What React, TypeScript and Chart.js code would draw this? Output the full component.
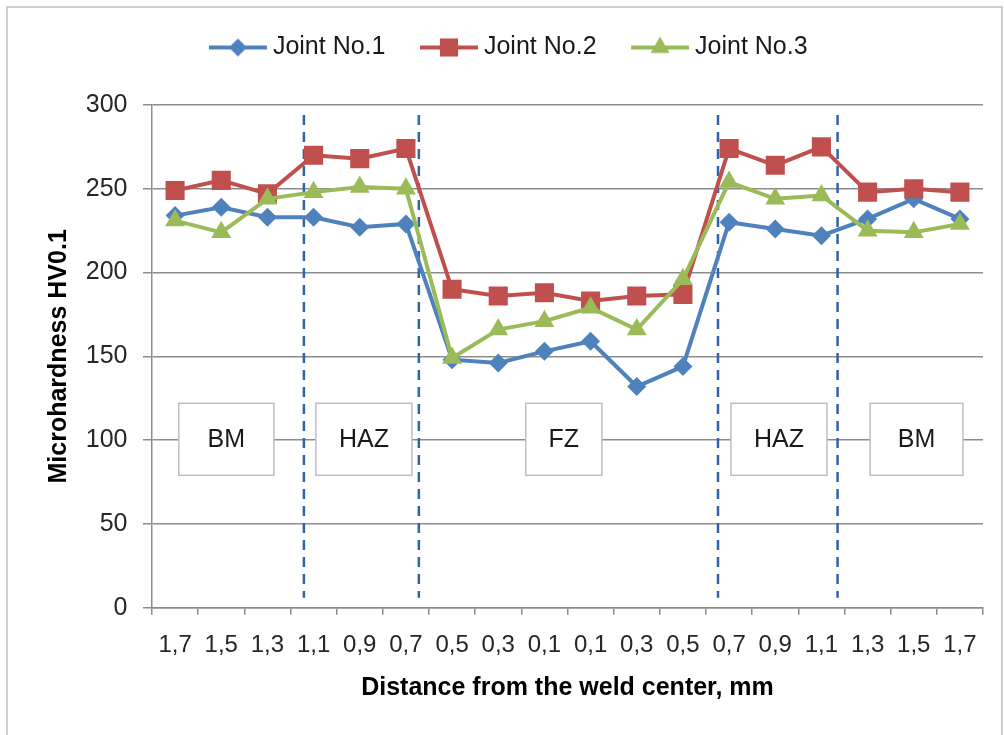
import React, { useEffect, useRef } from 'react';
import { Chart, registerables } from 'chart.js';

Chart.register(...registerables);

// ---- data ----
const categories = ['1,7', '1,5', '1,3', '1,1', '0,9', '0,7', '0,5', '0,3', '0,1', '0,1', '0,3', '0,5', '0,7', '0,9', '1,1', '1,3', '1,5', '1,7'];
const seriesNames = ['Joint No.1', 'Joint No.2', 'Joint No.3'];
const joint1 = [234, 239, 233, 233, 227, 229, 148, 146, 153, 159, 132, 144, 230, 226, 222, 232, 244, 232];
const joint2 = [249, 255, 247, 270, 268, 274, 190, 186, 188, 183, 186, 187, 274, 264, 275, 248, 250, 248];
const joint3 = [231, 224, 244, 248, 251, 250, 149, 166, 171, 179, 166, 196, 254, 244, 246, 225, 224, 229];
const yMin = 0;
const yMax = 300;
const yStep = 50;

// zone annotations (in category-index units)
const zoneLabels = ['BM', 'HAZ', 'FZ', 'HAZ', 'BM'];
const zoneCenters = [1.11, 4.09, 8.42, 13.08, 16.06];
const zoneWidths = [2.06, 2.08, 1.65, 2.08, 2.01];
const zoneBoundaries = [2.79, 5.28, 11.76, 14.35];

const COLORS = ['#4F81BD', '#C0504D', '#9BBB59'];
const STYLES = ['rectRot', 'rect', 'triangle'];
const RADII = [9.5, 13.5, 11.5];
const FONT = '"Liberation Sans", Arial, sans-serif';

function drawMarker(ctx: CanvasRenderingContext2D, style: string, x: number, y: number, r: number) {
  ctx.beginPath();
  if (style === 'rectRot') {
    ctx.moveTo(x - r, y);
    ctx.lineTo(x, y - r);
    ctx.lineTo(x + r, y);
    ctx.lineTo(x, y + r);
  } else if (style === 'rect') {
    const s = Math.SQRT1_2 * r;
    ctx.rect(x - s, y - s, 2 * s, 2 * s);
  } else {
    let a = 0;
    ctx.moveTo(x + Math.sin(a) * r, y - Math.cos(a) * r);
    a += (2 * Math.PI) / 3;
    ctx.lineTo(x + Math.sin(a) * r, y - Math.cos(a) * r);
    a += (2 * Math.PI) / 3;
    ctx.lineTo(x + Math.sin(a) * r, y - Math.cos(a) * r);
  }
  ctx.closePath();
  ctx.fill();
}

function legendImage(color: string, style: string, r: number) {
  const c = document.createElement('canvas');
  c.width = 60;
  c.height = 30;
  const ctx = c.getContext('2d')!;
  ctx.strokeStyle = color;
  ctx.lineWidth = 4;
  ctx.beginPath();
  ctx.moveTo(1, 15);
  ctx.lineTo(59, 15);
  ctx.stroke();
  ctx.fillStyle = color;
  drawMarker(ctx, style, 30, 15, r);
  return c;
}

const framePlugin = {
  id: 'frame',
  beforeDraw(chart: any) {
    const ctx = chart.ctx;
    ctx.save();
    ctx.fillStyle = '#ffffff';
    ctx.fillRect(0, 0, chart.width, chart.height);
    ctx.strokeStyle = '#BFBFBF';
    ctx.lineWidth = 1.5;
    ctx.strokeRect(7, 7, 995, 760);
    ctx.restore();
  },
};

const legendHeightPlugin = {
  id: 'legendHeight',
  afterInit(chart: any) {
    const legend = chart.legend;
    if (!legend) return;
    const fit = legend.fit;
    legend.fit = function () {
      fit.call(this);
      this.height = 111;
    };
  },
};

const zonesPlugin = {
  id: 'zones',
  beforeDatasetsDraw(chart: any) {
    const ctx = chart.ctx;
    const xs = chart.scales.x;
    const ys = chart.scales.y;
    ctx.save();
    // dashed boundaries
    ctx.strokeStyle = '#2E64A8';
    ctx.lineWidth = 2.5;
    ctx.setLineDash([10, 7]);
    zoneBoundaries.forEach((b) => {
      const x = xs.getPixelForValue(b);
      ctx.beginPath();
      ctx.moveTo(x, ys.getPixelForValue(294));
      ctx.lineTo(x, ys.getPixelForValue(6));
      ctx.stroke();
    });
    ctx.setLineDash([]);
    // labelled boxes
    zoneLabels.forEach((label, i) => {
      const x0 = xs.getPixelForValue(zoneCenters[i] - zoneWidths[i] / 2);
      const x1 = xs.getPixelForValue(zoneCenters[i] + zoneWidths[i] / 2);
      const y0 = ys.getPixelForValue(122);
      const y1 = ys.getPixelForValue(79);
      ctx.fillStyle = '#ffffff';
      ctx.fillRect(x0, y0, x1 - x0, y1 - y0);
      ctx.strokeStyle = '#BFBFBF';
      ctx.lineWidth = 1.5;
      ctx.strokeRect(x0, y0, x1 - x0, y1 - y0);
      ctx.fillStyle = '#1A1A1A';
      ctx.font = '25px ' + FONT;
      ctx.textAlign = 'center';
      ctx.textBaseline = 'middle';
      ctx.fillText(label, (x0 + x1) / 2, ys.getPixelForValue(100));
    });
    ctx.restore();
  },
};

export default function App() {
  const ref = useRef<HTMLCanvasElement | null>(null);

  useEffect(() => {
    if (!ref.current) return;
    const images = COLORS.map((c, i) => legendImage(c, STYLES[i], RADII[i] * 0.95));
    const values = [joint1, joint2, joint3];
    const chart = new Chart(ref.current, {
      type: 'line',
      data: {
        labels: categories,
        datasets: values.map((v, i) => ({
          label: seriesNames[i],
          data: v,
          borderColor: COLORS[i],
          backgroundColor: COLORS[i],
          borderWidth: 4,
          pointStyle: STYLES[i] as any,
          pointRadius: RADII[i],
          pointHoverRadius: RADII[i],
          pointBorderWidth: 0,
          pointBackgroundColor: COLORS[i],
          tension: 0,
          order: 3 - i,
        })),
      },
      options: {
        responsive: false,
        animation: false,
        events: [],
        layout: { padding: { left: 40, right: 21, top: -6, bottom: 0 } },
        plugins: {
          tooltip: { enabled: false },
          legend: {
            position: 'top',
            labels: {
              usePointStyle: true,
              pointStyleWidth: 45,
              padding: 41,
              color: '#1A1A1A',
              font: { family: FONT, size: 25 },
              generateLabels: (chart: any) => {
                const items = Chart.defaults.plugins.legend.labels.generateLabels(chart);
                items.sort((a: any, b: any) => a.datasetIndex - b.datasetIndex);
                return items.map((it: any) => ({ ...it, pointStyle: images[it.datasetIndex], lineWidth: 0 }));
              },
            },
          },
        },
        scales: {
          x: {
            type: 'category',
            offset: true,
            grid: {
              display: true,
              offset: true,
              drawOnChartArea: false,
              drawTicks: true,
              tickLength: 7,
              color: '#8C8C8C',
              lineWidth: 1.5,
            },
            border: { display: true, color: '#8C8C8C', width: 1.5 },
            ticks: {
              color: '#262626',
              font: { family: FONT, size: 24 },
              padding: 16,
              maxRotation: 0,
              autoSkip: false,
            },
            title: {
              display: true,
              text: 'Distance from the weld center, mm',
              color: '#000000',
              font: { family: FONT, size: 25, weight: 'bold' },
              padding: { top: 0, bottom: 32 },
            },
            afterFit: (scale: any) => {
              scale.height = 735 - 607.7;
            },
          },
          y: {
            min: yMin,
            max: yMax,
            ticks: {
              stepSize: yStep,
              color: '#262626',
              font: { family: FONT, size: 25 },
              padding: 15.5,
            },
            grid: {
              color: '#8C8C8C',
              lineWidth: 1.5,
              tickLength: 9,
              drawTicks: true,
            },
            border: { display: true, color: '#8C8C8C', width: 1.5 },
            title: {
              display: true,
              text: 'Microhardness HV0.1',
              color: '#000000',
              font: { family: FONT, size: 25, weight: 'bold' },
              padding: { top: 4.5, bottom: 0 },
            },
            afterFit: (scale: any) => {
              scale.width = 112;
            },
          },
        },
      },
      plugins: [framePlugin, legendHeightPlugin, zonesPlugin],
    } as any);
    return () => chart.destroy();
  }, []);

  return (
    <div style={{ position: 'absolute', left: 0, top: 0, width: 1004, height: 735 }}>
      <canvas ref={ref} width={1004} height={735} style={{ width: 1004, height: 735, display: 'block' }} />
    </div>
  );
}
